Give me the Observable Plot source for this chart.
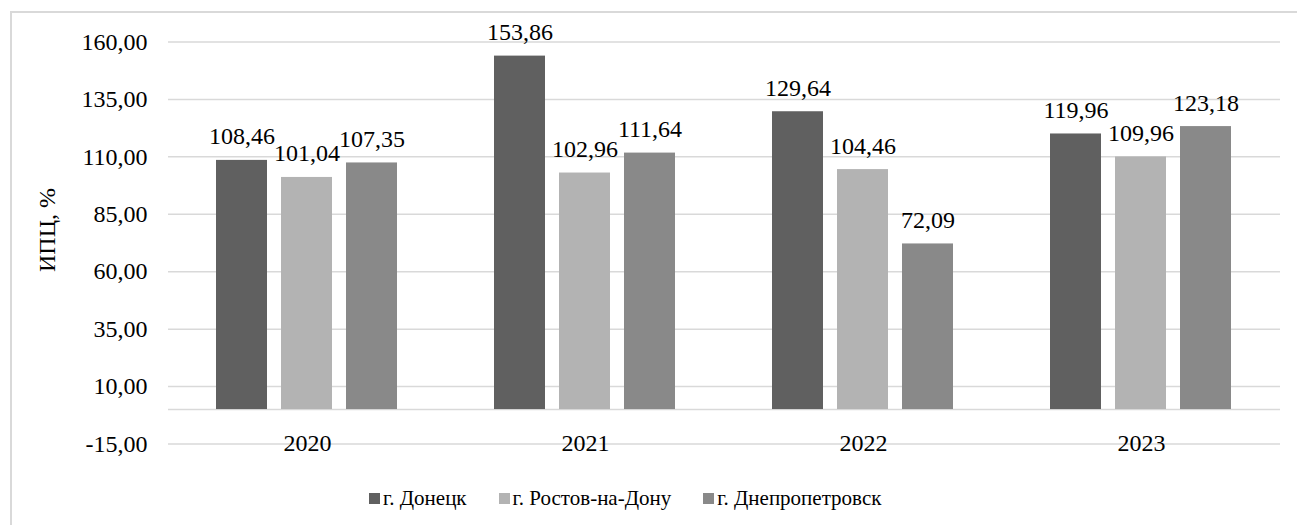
<!DOCTYPE html>
<html>
<head>
<meta charset="utf-8">
<script src="https://cdn.jsdelivr.net/npm/d3@7"></script>
<script src="https://cdn.jsdelivr.net/npm/@observablehq/plot@0.6"></script>
</head>
<body style="margin:0; padding:0; background:#fff; width:1297px; height:525px; position:relative; overflow:hidden;">
<div id="frame" style="position:absolute; left:10px; top:11px; width:1300px; height:530px; border:2px solid #d9d9d9; box-sizing:border-box;"></div>
<div id="chart" style="position:absolute; left:0; top:0;"></div>
<div id="ytitle" style="position:absolute; left:47px; top:230px; transform:translate(-50%,-50%) rotate(-90deg); white-space:nowrap; color:#000;">ИПЦ, %</div>
<div id="legend" style="position:absolute; left:369px; top:486px; display:flex; align-items:center; color:#000;"></div>
<script>
const years = ["2020", "2021", "2022", "2023"];
const cities = ["г. Донецк", "г. Ростов-на-Дону", "г. Днепропетровск"];
const colors = ["#606060", "#b3b3b3", "#898989"];
const donetsk = [108.46, 153.86, 129.64, 119.96];
const rostov = [101.04, 102.96, 104.46, 109.96];
const dnepr = [107.35, 111.64, 72.09, 123.18];
const yTicks = [-15, 10, 35, 60, 85, 110, 135, 160];

const seriesValues = [donetsk, rostov, dnepr];
const data = [];
years.forEach((y, i) => cities.forEach((c, j) => data.push({year: y, city: c, value: seriesValues[j][i]})));
const fmt = v => v.toFixed(2).replace(".", ",");
const FONT = `"Liberation Serif", "Times New Roman", Tinos, serif`;
const setFont = (el, size) => {
  el.style.setProperty("font-family", FONT, "important");
  if (size) el.style.setProperty("font-size", size + "px", "important");
};

const chart = Plot.plot({
  width: 1297,
  height: 470,
  marginLeft: 167,
  marginRight: 16,
  marginTop: 41.5,
  marginBottom: 26.5,
  style: {background: "transparent", overflow: "visible"},
  fx: {domain: years, paddingInner: 0, paddingOuter: 0, label: null},
  x: {domain: cities, paddingInner: 0.212, paddingOuter: 0.716, axis: null},
  y: {domain: [-15, 160], axis: null},
  color: {domain: cities, range: colors},
  marks: [
    Plot.ruleY([...yTicks, 0], {stroke: "#d9d9d9", strokeWidth: 1.5}),
    Plot.barY(data, {fx: "year", x: "city", y: "value", fill: "city"}),
    Plot.text(data, {fx: "year", x: "city", y: "value", text: d => fmt(d.value), lineAnchor: "bottom", dy: -16, fill: "#000", fontSize: 24}),
    Plot.axisY({ticks: yTicks, tickSize: 0, tickPadding: 21, tickFormat: fmt, fontSize: 24, label: null}),
    Plot.axisFx({anchor: "bottom", tickSize: 0, tickPadding: 6.5, lineAnchor: "bottom", fontSize: 24, label: null})
  ]
});
setFont(chart, 24);
chart.querySelectorAll("g").forEach(g => setFont(g));
chart.querySelectorAll("text, tspan").forEach(t => { setFont(t, 24); t.style.setProperty("fill", "#000", "important"); });
document.getElementById("chart").appendChild(chart);

setFont(document.body);
setFont(document.getElementById("ytitle"), 24);

const legend = document.getElementById("legend");
setFont(legend, 21);
cities.forEach((c, i) => {
  const item = document.createElement("div");
  item.style.display = "flex";
  item.style.alignItems = "center";
  item.style.marginRight = "32px";
  const sw = document.createElement("div");
  sw.style.width = "11px";
  sw.style.height = "11px";
  sw.style.marginRight = "3px";
  sw.style.background = colors[i];
  const t = document.createElement("span");
  setFont(t, 21);
  t.textContent = c;
  item.appendChild(sw);
  item.appendChild(t);
  legend.appendChild(item);
});
</script>
</body>
</html>
